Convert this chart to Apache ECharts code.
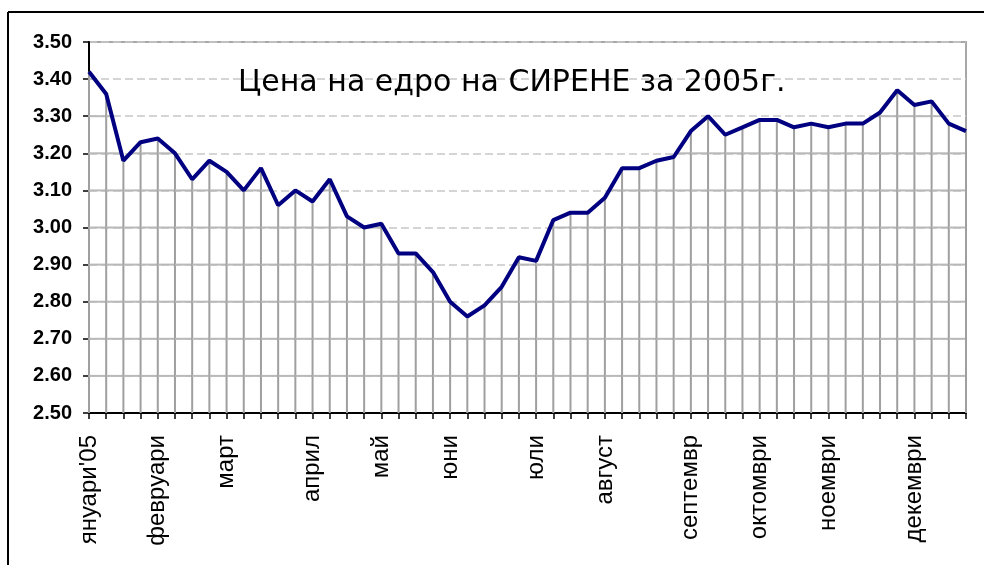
<!DOCTYPE html>
<html>
<head>
<meta charset="utf-8">
<title>Цена на едро на СИРЕНЕ за 2005г.</title>
<script src="https://cdn.jsdelivr.net/npm/echarts@6/dist/echarts.min.js"></script>
<style>
  html, body { margin: 0; padding: 0; background: #fff; }
  #chart { width: 984px; height: 565px; }
</style>
</head>
<body>
<div id="chart"></div>
<script>
// седмични цени, 52 седмици
var prices = [3.42, 3.36, 3.18, 3.23, 3.24, 3.20, 3.13, 3.18, 3.15, 3.10, 3.16, 3.06, 3.10,
              3.07, 3.13, 3.03, 3.00, 3.01, 2.93, 2.93, 2.88, 2.80, 2.76, 2.79, 2.84, 2.92,
              2.91, 3.02, 3.04, 3.04, 3.08, 3.16, 3.16, 3.18, 3.19, 3.26, 3.30, 3.25, 3.27,
              3.29, 3.29, 3.27, 3.28, 3.27, 3.28, 3.28, 3.31, 3.37, 3.33, 3.34, 3.28, 3.26];
var monthNames = ["януари'05", 'февруари', 'март', 'април', 'май', 'юни',
                  'юли', 'август', 'септемвр', 'октомври', 'ноември', 'декември'];
var monthWeek = [0, 4, 8, 13, 17, 21, 26, 30, 35, 39, 43, 48];
var yTicks = [2.50, 2.60, 2.70, 2.80, 2.90, 3.00, 3.10, 3.20, 3.30, 3.40, 3.50];

var weeks = [];
for (var i = 0; i < prices.length; i++) weeks.push('');
for (var m = 0; m < monthNames.length; m++) weeks[monthWeek[m]] = monthNames[m];

var yMin = yTicks[0], yMax = yTicks[yTicks.length - 1];

// drop lines + solid gridlines under the curve
function renderDrop(params, api) {
    var i = params.dataIndex;
    var v = prices[i];
    var top = api.coord([i, v]);
    var bot = api.coord([i, yMin]);
    var kids = [{
        type: 'line',
        shape: { x1: top[0], y1: top[1], x2: bot[0], y2: bot[1] },
        style: { stroke: '#9f9f9f', lineWidth: 2 }
    }];
    if (i < prices.length - 1) {
        var v2 = prices[i + 1];
        for (var k = 1; k < yTicks.length - 1; k++) {
            var L = yTicks[k];
            var t0, t1;
            if (v >= L && v2 >= L) { t0 = 0; t1 = 1; }
            else if (v < L && v2 < L) { continue; }
            else {
                var ts = (L - v) / (v2 - v);
                if (v >= L) { t0 = 0; t1 = ts; } else { t0 = ts; t1 = 1; }
            }
            var p1 = api.coord([i, L]);
            var p2 = api.coord([i + 1, L]);
            kids.push({
                type: 'line',
                shape: { x1: p1[0] + t0 * (p2[0] - p1[0]), y1: p1[1], x2: p1[0] + t1 * (p2[0] - p1[0]), y2: p1[1] },
                style: { stroke: '#b9b9b9', lineWidth: 2 }
            });
        }
    }
    return { type: 'group', children: kids };
}

var dropData = [];
for (var j = 0; j < prices.length; j++) dropData.push([j, prices[j]]);

var chartOptions = {
    backgroundColor: '#fff',
    animation: false,
    title: {
        text: 'Цена на едро на СИРЕНЕ за 2005г.',
        left: 233,
        top: 63,
        textStyle: {
            fontFamily: 'DejaVu Sans',
            fontWeight: 'normal',
            fontSize: 30,
            color: '#000'
        }
    },
    grid: {
        left: 89,
        top: 42,
        right: 18,
        bottom: 152,
        show: true,
        borderColor: '#a8a8a8',
        borderWidth: 2,
        backgroundColor: 'transparent'
    },
    xAxis: {
        type: 'category',
        boundaryGap: false,
        data: weeks,
        axisLine: { lineStyle: { color: '#000', width: 2 } },
        axisTick: { show: true, interval: 0, length: 6, lineStyle: { color: '#000', width: 1.5 } },
        axisLabel: {
            interval: 0,
            rotate: 90,
            margin: 22,
            fontFamily: 'Liberation Sans',
            fontSize: 24,
            color: '#000'
        },
        splitLine: { show: false }
    },
    yAxis: {
        type: 'value',
        min: yMin,
        max: yMax,
        interval: 0.1,
        axisLine: { show: true, lineStyle: { color: '#000', width: 2 } },
        axisTick: { show: true, length: 6, lineStyle: { color: '#000', width: 1.5 } },
        axisLabel: {
            margin: 17,
            fontFamily: 'Liberation Sans',
            fontWeight: 'bold',
            fontSize: 20,
            color: '#000',
            formatter: function (val) { return val.toFixed(2); }
        },
        splitLine: { show: true, lineStyle: { color: '#c8c8c8', width: 1.5, type: [8, 4] } }
    },
    graphic: [
        { type: 'line', shape: { x1: 8, y1: 12, x2: 984, y2: 12 }, style: { stroke: '#000', lineWidth: 2 } },
        { type: 'line', shape: { x1: 8, y1: 12, x2: 8, y2: 565 }, style: { stroke: '#000', lineWidth: 2 } }
    ],
    series: [
        {
            type: 'custom',
            renderItem: renderDrop,
            data: dropData,
            encode: { x: 0, y: 1 },
            clip: false,
            z: 1,
            silent: true
        },
        {
            name: 'цена',
            type: 'line',
            data: prices,
            showSymbol: false,
            lineStyle: { color: '#000080', width: 4 },
            z: 3
        }
    ]
};

var chart = echarts.init(document.getElementById('chart'));
chart.setOption(chartOptions);
</script>
</body>
</html>
